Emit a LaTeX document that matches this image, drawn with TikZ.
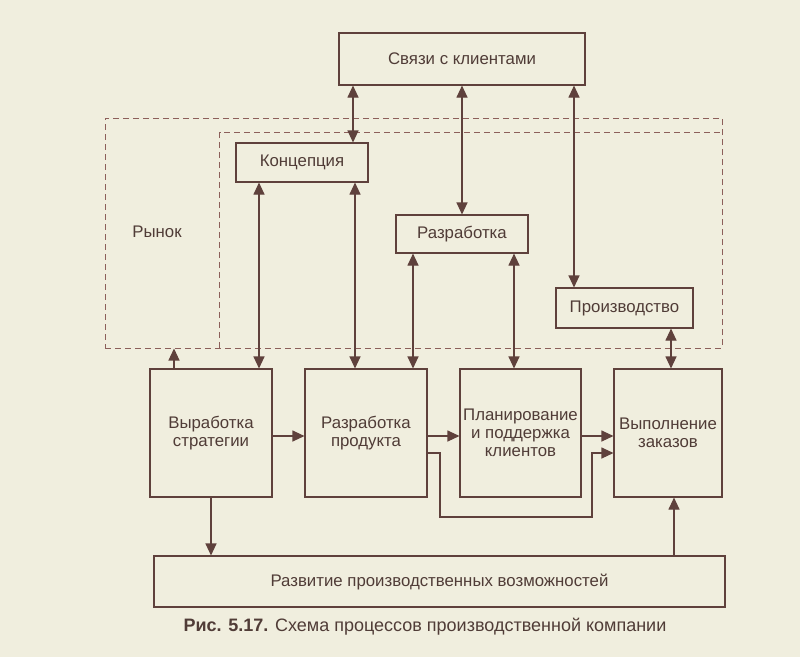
\documentclass[tikz,border=0pt]{standalone}
\usepackage{fontspec}
\setmainfont{Liberation Sans}
\usetikzlibrary{arrows.meta}
\definecolor{paper}{RGB}{240,238,222}
\definecolor{ink}{RGB}{95,65,60}
\definecolor{dashink}{RGB}{140,95,90}
\definecolor{inktext}{RGB}{80,60,55}
\begin{document}
\begin{tikzpicture}[x=1pt, y=-1pt,
    box/.style = {draw=ink, line width=1.1pt, text=inktext, align=center, inner sep=0pt, font=\fontsize{16.8}{18}\selectfont},
    tall/.style = {box, minimum height=128pt},
    frame/.style = {draw=dashink, line width=1pt, dash pattern=on 6pt off 4pt, inner sep=0pt},
    both/.style = {draw=ink, line width=1.1pt, {Triangle[length=12pt,width=11pt]}-{Triangle[length=12pt,width=11pt]}},
    one/.style = {draw=ink, line width=1.1pt, -{Triangle[length=12pt,width=11pt]}}]
  \fill[paper] (0,0) rectangle (800,657);
  \useasboundingbox (0,0) rectangle (800,657);

  % frames
  \node[frame, minimum width=617pt, minimum height=230pt] (market) at (413.5,233) {};
  \node[inner sep=0pt, minimum width=502pt, minimum height=215pt] (firm) at (471,240.5) {};
  \draw[frame] (firm.south west) -- (firm.north west) -- (firm.north east);
  \node[text=inktext, font=\fontsize{16.8}{18}\selectfont] (rynok) at (157,232) {Рынок};

  % boxes
  \node[box, minimum width=246pt, minimum height=52pt] (svyazi) at (462,59) {Связи с клиентами};
  \node[box, minimum width=132pt, minimum height=39pt] (konc) at (302,162.5) {Концепция};
  \node[box, minimum width=132pt, minimum height=38pt] (razr) at (462,234) {Разработка};
  \node[box, minimum width=137pt, minimum height=40pt] (proizv) at (624.5,308) {Производство};
  \node[tall, minimum width=122pt] (vyrab) at (211,433) {Выработка\\стратегии};
  \node[tall, minimum width=122pt] (razprod) at (366,433) {Разработка\\продукта};
  \node[tall, minimum width=121pt] (plan) at (520.5,433) {Планирование\\и поддержка\\клиентов};
  \node[tall, minimum width=108pt] (vypoln) at (668,433) {Выполнение\\заказов};
  \node[box, minimum width=571pt, minimum height=51pt] (razvit) at (439.5,581.5) {Развитие производственных возможностей};

  \node[text=inktext, font=\fontsize{18}{20}\selectfont] (caption) at (425,627) {\textbf{Рис. 5.17.} Схема процессов производственной компании};

  % links
  \draw[both] (353,0 |- svyazi.south) -- (353,0 |- konc.north);
  \draw[both] (462,0 |- svyazi.south) -- (462,0 |- razr.north);
  \draw[both] (574,0 |- svyazi.south) -- (574,0 |- proizv.north);
  \draw[both] (259,0 |- konc.south) -- (259,0 |- vyrab.north);
  \draw[both] (355,0 |- konc.south) -- (355,0 |- razprod.north);
  \draw[both] (413,0 |- razr.south) -- (413,0 |- razprod.north);
  \draw[both] (514,0 |- razr.south) -- (514,0 |- plan.north);
  \draw[both] (671,0 |- proizv.south) -- (671,0 |- vypoln.north);
  \draw[one] (174,0 |- vyrab.north) -- (174,0 |- market.south);
  \draw[one] (vyrab.east |- 0,436) -- (razprod.west |- 0,436);
  \draw[one] (razprod.east |- 0,436) -- (plan.west |- 0,436);
  \draw[one] (plan.east |- 0,436) -- (vypoln.west |- 0,436);
  \draw[one] (razprod.east |- 0,453) -- (440,453) -- (440,517) -- (592,517) -- (592,453) -- (vypoln.west |- 0,453);
  \draw[one] (vyrab.south) -- (vyrab.south |- razvit.north);
  \draw[one] (674,0 |- razvit.north) -- (674,0 |- vypoln.south);
\end{tikzpicture}
\end{document}
